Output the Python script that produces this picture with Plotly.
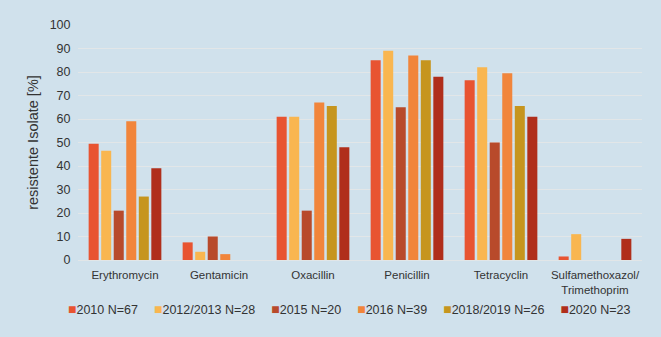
import plotly.graph_objects as go

categories = ["Erythromycin", "Gentamicin", "Oxacillin", "Penicillin", "Tetracyclin",
              "Sulfamethoxazol/<br>Trimethoprim"]
series_names = ["2010 N=67", "2012/2013 N=28", "2015 N=20", "2016 N=39",
                "2018/2019 N=26", "2020 N=23"]
v2010 = [49.5, 7.5, 61, 85, 76.5, 1.5]
v2012 = [46.5, 3.5, 61, 89, 82, 11]
v2015 = [21, 10, 21, 65, 50, 0]
v2016 = [59, 2.5, 67, 87, 79.5, 0]
v2018 = [27, 0, 65.5, 85, 65.5, 0]
v2020 = [39, 0, 48, 78, 61, 9]
colors = ["#E85431", "#F9B650", "#B84A2B", "#F1853B", "#C6951E", "#B02E1B"]

series_values = [v2010, v2012, v2015, v2016, v2018, v2020]

fig = go.Figure()
for name, vals, col in zip(series_names, series_values, colors):
    fig.add_trace(go.Bar(x=categories, y=vals, name=name, marker_color=col,
                         showlegend=False, marker_line=dict(width=0)))

# legend drawn as one line of text (colored squares + labels)
gap = '<span style="font-size:11.5px">' + "&nbsp;" * 5 + "</span>"
legend_text = gap.join(
    f'<span style="font-size:14px;color:{c}">■</span>{n}'
    for n, c in zip(series_names, colors)
)
fig.add_annotation(text=legend_text, xref="paper", yref="paper", x=0.48, y=-0.21,
                   xanchor="center", yanchor="middle", showarrow=False,
                   font=dict(size=12.5, color="#333333"))

font = "Liberation Sans, Arial, sans-serif"
fig.update_layout(
    width=661, height=337,
    paper_bgcolor="#D0E1EC", plot_bgcolor="#D0E1EC",
    margin=dict(l=78, r=19, t=25, b=77),
    barmode="group", bargap=0.2, bargroupgap=0.2,
    font=dict(family=font, size=12, color="#333333"),
    showlegend=False,
    yaxis=dict(range=[0, 100], dtick=10, showgrid=True, gridcolor="#E2E6E8",
               gridwidth=1, zeroline=False, ticks="outside", ticklen=4,
               tickcolor="rgba(0,0,0,0)", tickfont=dict(size=12.5),
               title=dict(text="resistente Isolate [%]", font=dict(size=14.5), standoff=7),
               showline=False),
    xaxis=dict(showline=True, linecolor="#E2E6E8", linewidth=1, ticks="outside",
               ticklen=4, tickcolor="rgba(0,0,0,0)", tickfont=dict(size=11.5)),
)
fig.write_html("out.html", config={"displayModeBar": False},
               post_script="document.body.style.margin='0';"
                           "document.body.style.background='#D0E1EC';")
